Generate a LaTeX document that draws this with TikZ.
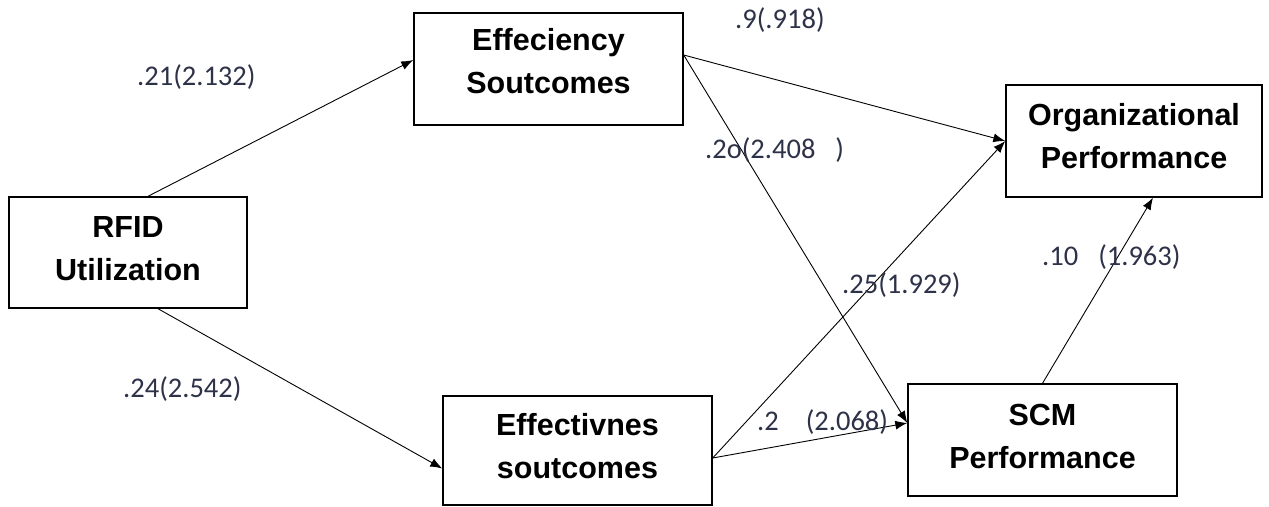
\documentclass[tikz,border=0pt]{standalone}
\usepackage{fontspec}
\setmainfont{Liberation Sans}
\newfontfamily\labfont{Carlito}
\usetikzlibrary{arrows.meta,calc}
\definecolor{labcol}{RGB}{45,50,72}
\tikzset{
  box/.style={draw, line width=1.4pt, rectangle, inner sep=0pt},
  boxtext/.style={align=center, inner sep=0pt, font=\bfseries\fontsize{30.5}{43}\selectfont},
  lab/.style={anchor=base west, inner sep=0pt, text=labcol, font=\labfont\fontsize{28.5}{32}\selectfont},
  conn/.style={line width=0.9pt, -{Latex[length=12pt,width=9pt]}}
}
\begin{document}
\begin{tikzpicture}[x=1pt,y=-1pt]
\useasboundingbox (0,0) rectangle (1269,506);
% boxes
\node[box, minimum width=238pt, minimum height=111pt] (rfid) at (128,252.5) {};
\node[box, minimum width=269pt, minimum height=112pt] (eff) at (548.5,69) {};
\node[box, minimum width=256pt, minimum height=112pt] (org) at (1134,141) {};
\node[box, minimum width=269pt, minimum height=109pt] (effv) at (577.5,450.5) {};
\node[box, minimum width=269pt, minimum height=112pt] (scm) at (1042.5,440) {};
% box texts
\node[boxtext] (rfidt) at ([yshift=4pt]rfid.center) {RFID\\Utilization};
\node[boxtext] (efft) at ([yshift=8pt]eff.center) {Effeciency\\Soutcomes};
\node[boxtext] (orgt) at ([yshift=5pt]org.center) {Organizational\\Performance};
\node[boxtext] (effvt) at ([yshift=4.5pt]effv.center) {Effectivnes\\soutcomes};
\node[boxtext] (scmt) at ([yshift=4pt]scm.center) {SCM\\Performance};
% connection points
\coordinate (rfidN) at ([xshift=20pt]rfid.north);
\coordinate (rfidS) at ([xshift=30pt]rfid.south);
\coordinate (effW) at ([yshift=9pt]eff.west);
\coordinate (effE) at ([yshift=14pt]eff.east);
\coordinate (effvW) at ([yshift=-18pt]effv.west);
\coordinate (effvE) at ([yshift=-7.5pt]effv.east);
\coordinate (scmW) at ([yshift=17pt]scm.west);
\coordinate (orgS) at ([xshift=19pt]org.south);
% connectors
\draw[conn] (rfidN) -- (effW);
\draw[conn] (rfidS) -- (effvW);
\draw[conn] (effE) -- (org.west);
\draw[conn] (effE) -- (scmW);
\draw[conn] (effvE) -- (org.west);
\draw[conn] (effvE) -- (scmW);
\draw[conn] (scm.north) -- (orgS);
% labels
\node[lab] (l1) at (137,85) {.21(2.132)};
\node[lab] (l2) at (735,28) {.9(.918)};
\node[lab] (l3) at (705,158) {.2o(2.408\hspace{20pt})};
\node[lab] (l4) at (842,293) {.25(1.929)};
\node[lab] (l5) at (1042,265) {.10\hspace{20pt}(1.963)};
\node[lab] (l6) at (123,397) {.24(2.542)};
\node[lab] (l7) at (757,430) {.2\hspace{27pt}(2.068)};
\end{tikzpicture}
\end{document}
